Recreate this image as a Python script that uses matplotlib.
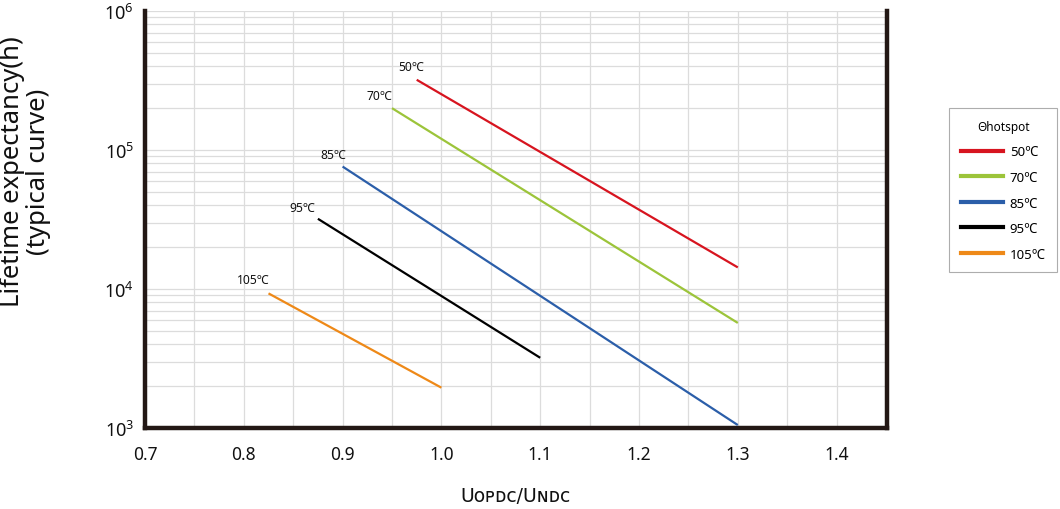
import numpy as np
import matplotlib
matplotlib.use("Agg")
import matplotlib.pyplot as plt
from matplotlib.ticker import LogLocator, FixedLocator, NullFormatter
from matplotlib.lines import Line2D

plt.rcParams['font.family'] = ['Noto Sans', 'DejaVu Sans']
plt.rcParams['mathtext.fontset'] = 'custom'
plt.rcParams['mathtext.rm'] = 'Noto Sans'

# ---- data ----
labels = ["50℃", "70℃", "85℃", "95℃", "105℃"]
x_start = [0.975, 0.95, 0.90, 0.875, 0.825]
x_end = [1.30, 1.30, 1.30, 1.10, 1.00]
y_start = [3.2e5, 2.0e5, 7.6e4, 3.2e4, 9.3e3]
y_end = [1.43e4, 5.7e3, 1.05e3, 3.2e3, 1.95e3]
x_ticks = [0.7, 0.8, 0.9, 1.0, 1.1, 1.2, 1.3, 1.4]
x_tick_labels = ["0.7", "0.8", "0.9", "1.0", "1.1", "1.2", "1.3", "1.4"]

colors = ["#d7141f", "#9cc43a", "#2b5ea9", "#000000", "#ee8918"]
# label offsets in pixels (right edge relative to start, bottom above start)
label_off = [(7, 7), (0, 6), (4, 6), (-3, 5), (1, 7)]

fig = plt.figure(figsize=(10.6, 5.1), dpi=100)
ax = fig.add_axes([145/1060, 1-429/510, (887-145)/1060, (429-12)/510])

for i in range(len(labels)):
    ax.plot([x_start[i], x_end[i]], [y_start[i], y_end[i]], color=colors[i],
            lw=1.6, solid_capstyle='butt', zorder=3)
    dx, dy = label_off[i]
    ax.annotate(labels[i], (x_start[i], y_start[i]),
                xytext=(dx*0.72, dy*0.72), textcoords='offset points',
                ha='right', va='bottom', fontsize=8.7, color='#111111')

ax.set_yscale('log')
ax.set_xlim(0.7, 1.451)
ax.set_ylim(1e3, 1e6)

ax.xaxis.set_major_locator(FixedLocator(x_ticks))
ax.set_xticklabels(x_tick_labels)
ax.xaxis.set_minor_locator(FixedLocator(np.arange(0.75, 1.45, 0.1)))
ax.yaxis.set_major_locator(LogLocator(base=10, numticks=10))
ax.yaxis.set_minor_locator(LogLocator(base=10, subs=np.arange(2, 10), numticks=20))
ax.yaxis.set_minor_formatter(NullFormatter())

ax.grid(True, which='both', color='#dcdcdc', lw=0.9, zorder=0)
ax.tick_params(which='both', length=0)
ax.tick_params(axis='x', pad=12, labelsize=12.5, colors='#111111')
ax.tick_params(axis='y', pad=8, labelsize=13, colors='#111111')

for s in ['left', 'bottom', 'right']:
    ax.spines[s].set_linewidth(3.2)
    ax.spines[s].set_color('#231815')
ax.spines['top'].set_visible(False)

ax.set_xlabel("Uᴏᴘᴅᴄ/Uɴᴅᴄ", fontsize=13.5, labelpad=17, color='#111111',
              family=['DejaVu Sans'])

fig.text(0.024, 1-172/510, "Lifetime expectancy(h)\n(typical curve)",
         rotation=90, ha='center', va='center', fontsize=18.5,
         multialignment='center', linespacing=1.05, color='#111111')

handles = [Line2D([0], [0], color=c, lw=3) for c in colors]
leg = fig.legend(handles, labels, title="Θhotspot", loc='upper left',
                 bbox_to_anchor=(949/1060, 1-109/510), fontsize=9.5,
                 title_fontsize=8.5, frameon=True, fancybox=False,
                 edgecolor='#999999', handlelength=3.2, handletextpad=0.5,
                 labelspacing=0.95, borderpad=0.9, borderaxespad=0)
leg.get_frame().set_linewidth(0.8)

fig.savefig("out.png", dpi=100)
